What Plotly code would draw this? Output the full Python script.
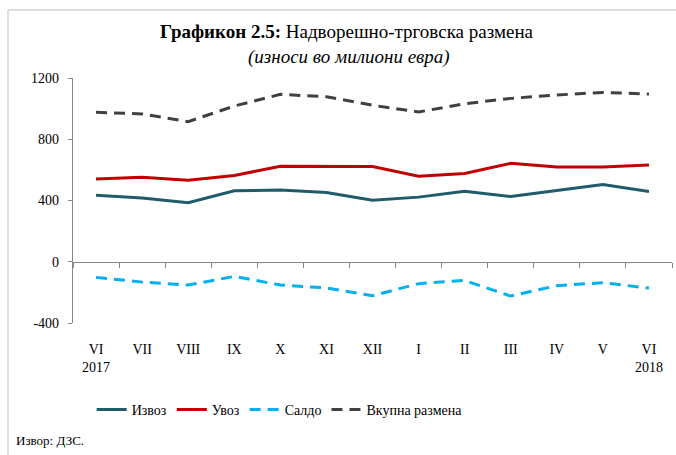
import plotly.graph_objects as go

months = ["VI<br>2017", "VII", "VIII", "IX", "X", "XI", "XII", "I", "II", "III", "IV", "V", "VI<br>2018"]
izvoz = [435, 417, 385, 463, 469, 452, 402, 422, 461, 426, 465, 504, 459]
uvoz = [541, 552, 532, 563, 624, 624, 622, 558, 576, 643, 619, 619, 632]
saldo = [-102, -133, -152, -96, -152, -171, -222, -143, -122, -224, -156, -137, -172]
vkupno = [976, 965, 915, 1017, 1093, 1078, 1022, 978, 1032, 1067, 1089, 1106, 1095]
y_ticks = [-400, 0, 400, 800, 1200]
y_tick_labels = ["-400", "0", "400", "800", "1200"]

xs = list(range(len(months)))
FONT = "Liberation Serif"
AX = "#868686"

fig = go.Figure()
fig.add_trace(go.Scatter(x=xs, y=izvoz, name="Извоз", mode="lines",
                         line=dict(color="#1F5B6B", width=3)))
fig.add_trace(go.Scatter(x=xs, y=uvoz, name="Увоз", mode="lines",
                         line=dict(color="#C00000", width=3)))
fig.add_trace(go.Scatter(x=xs, y=saldo, name="Салдо", mode="lines",
                         line=dict(color="#00B0F0", width=3, dash="11px,7px")))
fig.add_trace(go.Scatter(x=xs, y=vkupno, name="Вкупна размена", mode="lines",
                         line=dict(color="#404040", width=3, dash="11px,7px")))
# empty helper trace so the zero-positioned axis is drawn
fig.add_trace(go.Scatter(x=[], y=[], xaxis="x2", showlegend=False, hoverinfo="skip"))

n = len(months)
fig.update_layout(
    width=676, height=455,
    margin=dict(l=73, r=4, t=78, b=132),
    paper_bgcolor="white", plot_bgcolor="white",
    font=dict(family=FONT, size=14, color="#000000"),
    showlegend=True,
    legend=dict(orientation="h", x=0.345, xanchor="center", y=-0.355, yanchor="middle",
                font=dict(family=FONT, size=14), itemwidth=30, tracegroupgap=0),
    xaxis=dict(range=[-0.5, n - 0.5], tickvals=xs, ticktext=months,
               showline=False, showgrid=False, zeroline=False, ticks="",
               ticklabelstandoff=16, tickfont=dict(family=FONT, size=14)),
    xaxis2=dict(range=[-0.5, n - 0.5], overlaying="x", anchor="free",
                position=(0 - y_ticks[0]) / (y_ticks[-1] - y_ticks[0]),
                tickvals=[i - 0.5 for i in range(n + 1)], showticklabels=False,
                ticks="outside", ticklen=5, tickcolor=AX, tickwidth=1,
                showline=True, linecolor=AX, linewidth=1.3, showgrid=False, zeroline=False),
    yaxis=dict(range=[y_ticks[0], y_ticks[-1]], tickvals=y_ticks, ticktext=y_tick_labels,
               showline=True, linecolor=AX, linewidth=1.3, ticks="outside", ticklen=4,
               tickcolor=AX, showgrid=False, zeroline=False, ticklabelstandoff=6,
               tickfont=dict(family=FONT, size=14)),
    shapes=[dict(type="rect", xref="paper", yref="paper",
                 x0=(8 - 73) / 599, x1=(700 - 73) / 599,
                 y0=(323 - 480) / 245, y1=1 + (78 - 10) / 245,
                 line=dict(color="#BFBFBF", width=1), fillcolor="rgba(0,0,0,0)", layer="below")],
    annotations=[
        dict(text="<b>Графикон 2.5:</b> Надворешно-трговска размена", xref="paper", yref="paper",
             x=(347 - 73) / 599, y=1 + (78 - 32) / 245, xanchor="center", yanchor="middle",
             showarrow=False, font=dict(family=FONT, size=19)),
        dict(text="<i>(износи во милиони евра)</i>", xref="paper", yref="paper",
             x=(349 - 73) / 599, y=1 + (78 - 57) / 245, xanchor="center", yanchor="middle",
             showarrow=False, font=dict(family=FONT, size=19)),
        dict(text="Извор: ДЗС.", xref="paper", yref="paper",
             x=(14 - 73) / 599, y=(323 - 440) / 245, xanchor="left", yanchor="middle",
             showarrow=False, font=dict(family=FONT, size=13)),
    ],
)

fig.write_html("out.html", config={"displayModeBar": False},
               post_script="document.body.style.margin='0';document.body.style.overflow='hidden';")
